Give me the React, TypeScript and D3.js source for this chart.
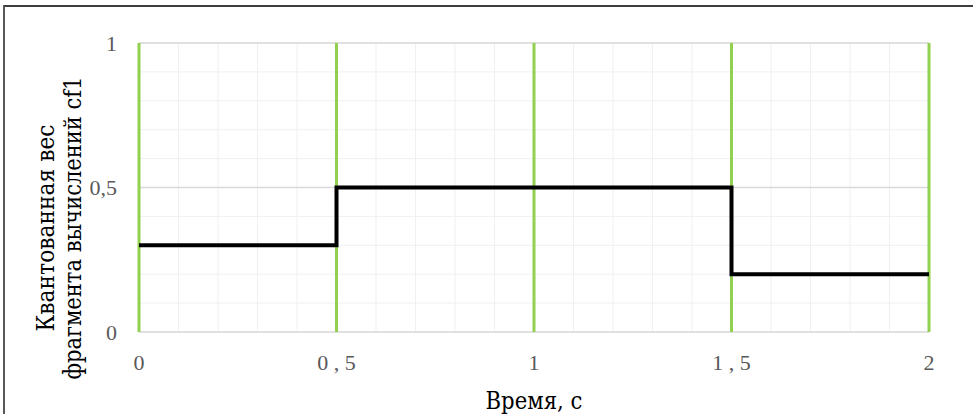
import React from "react";
import * as d3 from "d3";

const times = [0, 0.5, 0.5, 1.5, 1.5, 2];
const weights = [0.3, 0.3, 0.5, 0.5, 0.2, 0.2];
const xTicks = [0, 0.5, 1, 1.5, 2];
const xTickLabels = ["0", "0 , 5", "1", "1 , 5", "2"];
const yTicks = [0, 0.5, 1];
const yTickLabels = ["0", "0,5", "1"];
const xTitle = "Время, с";
const yTitle = ["Квантованная вес", "фрагмента вычислений cf1"];

export default function App() {
  const W = 973, H = 414;
  const x = d3.scaleLinear().domain([0, 2]).range([139, 929]);
  const y = d3.scaleLinear().domain([0, 1]).range([332, 43]);
  const minorX = d3.range(0, 2.0001, 0.1);
  const minorY = d3.range(0, 1.0001, 0.1);
  const line = d3.line<number>().x((_, i) => x(times[i])).y((d) => y(d));
  const font = "'Liberation Serif', 'Times New Roman', serif";
  const titleFont = "'DejaVu Serif', serif";
  return (
    <svg width={W} height={H} style={{ position: "absolute", left: 0, top: 0, background: "#fff" }}>
      <rect x={4} y={6} width={1000} height={500} fill="#fff" stroke="#000" strokeWidth={1.5} />
      <line x1={4} y1={6} x2={4} y2={414} stroke="#595959" strokeWidth={2} />
      {minorX.map((v, i) => (
        <line key={"mx" + i} x1={x(v)} x2={x(v)} y1={y(0)} y2={y(1)} stroke="#f0f0f0" strokeWidth={1} />
      ))}
      {minorY.map((v, i) => (
        <line key={"my" + i} x1={x(0)} x2={x(2)} y1={y(v)} y2={y(v)} stroke="#f0f0f0" strokeWidth={1} />
      ))}
      {yTicks.map((v, i) => (
        <line key={"gy" + i} x1={x(0)} x2={x(2)} y1={y(v)} y2={y(v)} stroke="#d9d9d9" strokeWidth={1.5} />
      ))}
      {xTicks.map((v, i) => (
        <line key={"gx" + i} x1={x(v)} x2={x(v)} y1={y(0)} y2={y(1)} stroke="#92d050" strokeWidth={3} />
      ))}
      <path d={line(weights) || ""} fill="none" stroke="#000" strokeWidth={4} strokeLinejoin="miter" />
      {yTicks.map((v, i) => (
        <text key={"yt" + i} x={117} y={y(v)} dy="0.35em" textAnchor="end" fontFamily={font} fontSize={22} fill="#595959">
          {yTickLabels[i]}
        </text>
      ))}
      {xTicks.map((v, i) => (
        <text key={"xt" + i} x={x(v)} y={370} textAnchor="middle" fontFamily={font} fontSize={22} fill="#595959">
          {xTickLabels[i]}
        </text>
      ))}
      <text x={534} y={409} textAnchor="middle" fontFamily={titleFont} fontSize={24}
        textLength={97} lengthAdjust="spacingAndGlyphs" fill="#000">
        {xTitle}
      </text>
      <g transform={`translate(0, 228) rotate(-90)`}>
        <text x={0} y={54} textAnchor="middle" fontFamily={titleFont} fontSize={24}
          textLength={207} lengthAdjust="spacingAndGlyphs" fill="#000">
          {yTitle[0]}
        </text>
        <text x={0} y={81} textAnchor="middle" fontFamily={titleFont} fontSize={24}
          textLength={303} lengthAdjust="spacingAndGlyphs" fill="#000">
          {yTitle[1]}
        </text>
      </g>
    </svg>
  );
}
